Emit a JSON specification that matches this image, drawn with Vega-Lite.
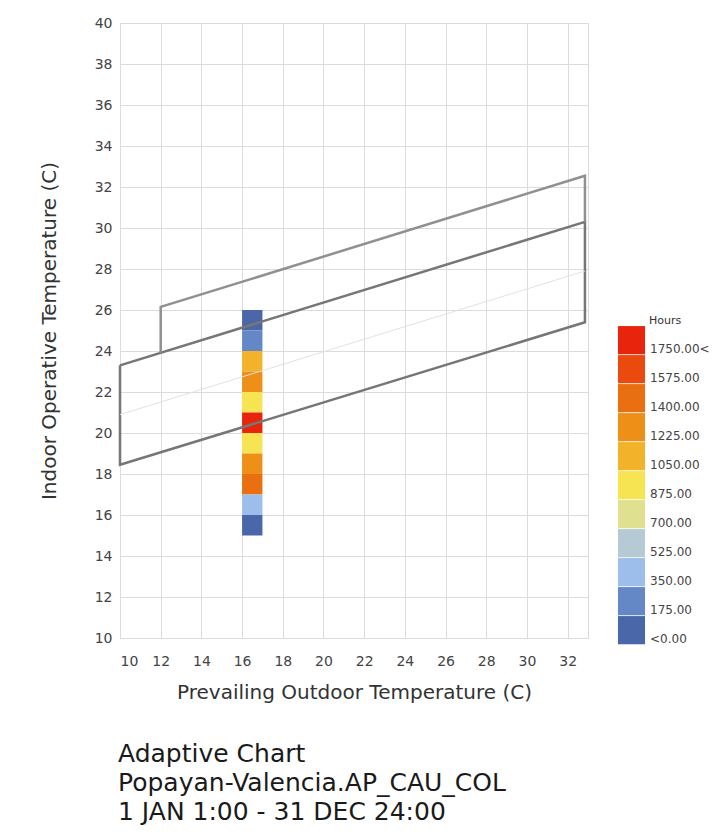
{
  "$schema": "https://vega.github.io/schema/vega-lite/v6.json",
  "width": 468,
  "height": 615,
  "autosize": {"type": "none"},
  "padding": {"left": 120, "top": 23, "right": 128, "bottom": 196},
  "background": "white",
  "config": {
    "font": "DejaVu Sans",
    "view": {"stroke": "#d9d9d9", "strokeWidth": 1},
    "axis": {
      "grid": true,
      "gridColor": "#dcdcdc",
      "gridWidth": 1,
      "domain": false,
      "ticks": false,
      "labelFontSize": 14,
      "labelColor": "#444444",
      "titleFontSize": 20,
      "titleFontWeight": "normal",
      "titleColor": "#333333"
    }
  },
  "title": {
    "text": ["Adaptive Chart", "Popayan-Valencia.AP_CAU_COL", "1 JAN 1:00 - 31 DEC 24:00"],
    "orient": "bottom",
    "anchor": "start",
    "frame": "group",
    "fontSize": 25,
    "fontWeight": "normal",
    "color": "#1a1a1a",
    "lineHeight": 29,
    "offset": 40,
    "dx": -2
  },
  "datasets": {
    "cells": [
      {"tout": 16, "tout2": 17, "tin": 25, "tin2": 26, "hours": 120, "band": "<0.00"},
      {"tout": 16, "tout2": 17, "tin": 24, "tin2": 25, "hours": 260, "band": "175.00"},
      {"tout": 16, "tout2": 17, "tin": 23, "tin2": 24, "hours": 1120, "band": "1050.00"},
      {"tout": 16, "tout2": 17, "tin": 22, "tin2": 23, "hours": 1300, "band": "1225.00"},
      {"tout": 16, "tout2": 17, "tin": 21, "tin2": 22, "hours": 960, "band": "875.00"},
      {"tout": 16, "tout2": 17, "tin": 20, "tin2": 21, "hours": 1800, "band": "1750.00<"},
      {"tout": 16, "tout2": 17, "tin": 19, "tin2": 20, "hours": 950, "band": "875.00"},
      {"tout": 16, "tout2": 17, "tin": 18, "tin2": 19, "hours": 1290, "band": "1225.00"},
      {"tout": 16, "tout2": 17, "tin": 17, "tin2": 18, "hours": 1480, "band": "1400.00"},
      {"tout": 16, "tout2": 17, "tin": 16, "tin2": 17, "hours": 420, "band": "350.00"},
      {"tout": 16, "tout2": 17, "tin": 15, "tin2": 16, "hours": 60, "band": "<0.00"}
    ],
    "lines": [
      {"id": "lower", "i": 0, "x": 10, "y": 23.3},
      {"id": "lower", "i": 1, "x": 10, "y": 18.45},
      {"id": "lower", "i": 2, "x": 32.85, "y": 25.4},
      {"id": "lower", "i": 3, "x": 32.85, "y": 30.3},
      {"id": "lower", "i": 4, "x": 10, "y": 23.3},
      {"id": "upper", "i": 0, "x": 12, "y": 23.92},
      {"id": "upper", "i": 1, "x": 12, "y": 26.15},
      {"id": "upper", "i": 2, "x": 32.85, "y": 32.55},
      {"id": "upper", "i": 3, "x": 32.85, "y": 30.3},
      {"id": "neutral", "i": 0, "x": 10, "y": 20.9},
      {"id": "neutral", "i": 1, "x": 32.85, "y": 27.9}
    ]
  },
  "layer": [
    {
      "data": {"name": "cells"},
      "mark": {"type": "rect", "strokeWidth": 0},
      "encoding": {
        "x": {
          "field": "tout", "type": "quantitative",
          "scale": {"domain": [10, 33], "nice": false, "zero": false},
          "axis": {
            "title": "Prevailing Outdoor Temperature (C)",
            "values": [10, 12, 14, 16, 18, 20, 22, 24, 26, 28, 30, 32],
            "labelPadding": 16,
            "titlePadding": 14
          }
        },
        "x2": {"field": "tout2"},
        "y": {
          "field": "tin", "type": "quantitative",
          "scale": {"domain": [10, 40], "nice": false, "zero": false},
          "axis": {
            "title": "Indoor Operative Temperature (C)",
            "values": [10, 12, 14, 16, 18, 20, 22, 24, 26, 28, 30, 32, 34, 36, 38, 40],
            "labelPadding": 8,
            "titlePadding": 35
          }
        },
        "y2": {"field": "tin2"},
        "color": {
          "field": "band", "type": "nominal",
          "scale": {
            "domain": ["1750.00<", "1575.00", "1400.00", "1225.00", "1050.00", "875.00", "700.00", "525.00", "350.00", "175.00", "<0.00"],
            "range": ["#e8250c", "#ea4a0e", "#ea6f10", "#ee8f18", "#f2b22a", "#f6e453", "#dfe190", "#b6cad6", "#9dbdea", "#6488c6", "#4a67a9"]
          },
          "legend": {
            "orient": "none",
            "legendX": 497,
            "legendY": 292,
            "title": "Hours",
            "titleFontSize": 11,
            "titleFontWeight": "normal",
            "titleColor": "#333333",
            "titlePadding": 7,
            "labelFontSize": 12,
            "labelColor": "#444444",
            "symbolType": "M-0.96,-1.52H0.96V0.48H-0.96Z",
            "symbolSize": 795,
            "symbolStrokeWidth": 0,
            "symbolOpacity": 1,
            "rowPadding": 0,
            "labelOffset": 4,
            "padding": 0,
            "encode": {
              "labels": {"update": {"dy": {"value": 1}}},
              "title": {"update": {"dx": {"value": 32}}}
            }
          }
        }
      }
    },
    {
      "data": {"name": "lines"},
      "transform": [{"filter": "datum.id !== 'neutral'"}],
      "mark": {"type": "line", "strokeWidth": 2.5, "strokeJoin": "miter"},
      "encoding": {
        "x": {"field": "x", "type": "quantitative"},
        "y": {"field": "y", "type": "quantitative"},
        "detail": {"field": "id"},
        "order": {"field": "i", "type": "quantitative"},
        "color": {
          "field": "id", "type": "nominal",
          "scale": {"domain": ["lower", "upper"], "range": ["#767676", "#909090"]},
          "legend": null
        }
      }
    },
    {
      "data": {"name": "lines"},
      "transform": [{"filter": "datum.id === 'neutral'"}],
      "mark": {"type": "line", "strokeWidth": 1, "color": "#e2e2e2"},
      "encoding": {
        "x": {"field": "x", "type": "quantitative"},
        "y": {"field": "y", "type": "quantitative"},
        "order": {"field": "i", "type": "quantitative"}
      }
    }
  ],
  "resolve": {"scale": {"color": "independent"}}
}
